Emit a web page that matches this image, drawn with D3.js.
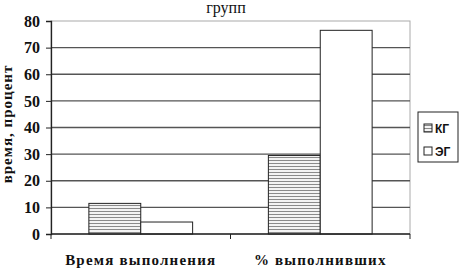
<!DOCTYPE html>
<html>
<head>
<meta charset="utf-8">
<script src="https://cdn.jsdelivr.net/npm/d3@7"></script>
<style>
  body { margin: 0; background: #fff; }
  svg { display: block; }
</style>
</head>
<body>
<div id="chart"></div>
<script>
// data
const categories = ["Время выполнения", "% выполнивших"];
const seriesNames = ["КГ", "ЭГ"];
const kgValues = [11.5, 29.5];
const egValues = [4.5, 76.5];
const yTicks = [0, 10, 20, 30, 40, 50, 60, 70, 80];

const width = 462;
const height = 269;
const margin = { top: 21, right: 52, bottom: 35, left: 51 };
const serif = "'Liberation Serif'";
const sans = "'Liberation Sans'";

const svg = d3.select("#chart").append("svg")
    .attr("width", width)
    .attr("height", height);

// horizontal hatch for КГ
const defs = svg.append("defs");
const pat = defs.append("pattern")
    .attr("id", "hatch")
    .attr("patternUnits", "userSpaceOnUse")
    .attr("width", 6)
    .attr("height", 3);
pat.append("rect").attr("width", 6).attr("height", 3).attr("fill", "#fff");
pat.append("line")
    .attr("x1", 0).attr("x2", 6)
    .attr("y1", 1.5).attr("y2", 1.5)
    .attr("stroke", "#8a8a8a")
    .attr("stroke-width", 1.2);

const xScale = d3.scaleBand()
    .domain(categories)
    .range([margin.left, width - margin.right]);

const xInner = d3.scaleBand()
    .domain(seriesNames)
    .range([0, xScale.bandwidth()])
    .paddingOuter(0.73);

const yScale = d3.scaleLinear()
    .domain([0, 80])
    .range([height - margin.bottom, margin.top]);

// plot frame + grid
svg.append("rect")
    .attr("x", margin.left)
    .attr("y", margin.top)
    .attr("width", width - margin.left - margin.right)
    .attr("height", yScale(0) - margin.top)
    .attr("fill", "none")
    .attr("stroke", "#aaa");

svg.append("g")
    .selectAll("line")
    .data(yTicks.filter(d => d > 0 && d < 80))
    .enter()
    .append("line")
    .attr("x1", margin.left)
    .attr("x2", width - margin.right)
    .attr("y1", d => yScale(d))
    .attr("y2", d => yScale(d))
    .attr("stroke", "#555")
    .attr("stroke-width", 1.3);

// bars
const data = categories.map((c, i) => ({ cat: c, values: [kgValues[i], egValues[i]] }));

const groups = svg.selectAll(".grp")
    .data(data)
    .enter()
    .append("g")
    .attr("transform", d => "translate(" + xScale(d.cat) + ",0)");

groups.selectAll("rect")
    .data(d => d.values.map((v, i) => ({ name: seriesNames[i], value: v })))
    .enter()
    .append("rect")
    .attr("x", d => xInner(d.name))
    .attr("width", xInner.bandwidth())
    .attr("y", d => yScale(d.value))
    .attr("height", d => yScale(0) - yScale(d.value))
    .attr("fill", d => d.name === "КГ" ? "url(#hatch)" : "#fff")
    .attr("stroke", "#222")
    .attr("stroke-width", 1);

// axes
const yAxis = d3.axisLeft(yScale).tickValues(yTicks).tickSize(5).tickPadding(6);
const yG = svg.append("g")
    .attr("transform", "translate(" + margin.left + ",0)")
    .call(yAxis);
yG.select(".domain").attr("stroke", "#222").attr("stroke-width", 1.3);
yG.selectAll(".tick line").attr("stroke", "#222");
yG.selectAll("text")
    .style("font-family", serif)
    .style("font-weight", "bold")
    .style("font-size", "16px")
    .attr("fill", "#111");

svg.append("line")
    .attr("x1", margin.left)
    .attr("x2", width - margin.right)
    .attr("y1", yScale(0))
    .attr("y2", yScale(0))
    .attr("stroke", "#222")
    .attr("stroke-width", 1.3);

// category ticks
svg.selectAll(".ctick")
    .data([...categories.map(c => xScale(c)), width - margin.right])
    .enter()
    .append("line")
    .attr("x1", d => d).attr("x2", d => d)
    .attr("y1", yScale(0)).attr("y2", yScale(0) + 5)
    .attr("stroke", "#222");

svg.selectAll(".clabel")
    .data(categories)
    .enter()
    .append("text")
    .attr("x", d => xScale(d) + xScale.bandwidth() / 2)
    .attr("y", 265)
    .attr("text-anchor", "middle")
    .style("font-family", serif)
    .style("font-weight", "bold")
    .style("font-size", "15px")
    .style("letter-spacing", "1.2px")
    .attr("fill", "#111")
    .text(d => d);

// y axis title
svg.append("text")
    .attr("text-anchor", "middle")
    .attr("transform", "translate(12,124)rotate(-90)")
    .style("font-family", serif)
    .style("font-weight", "bold")
    .style("font-size", "15px")
    .style("letter-spacing", "1px")
    .attr("fill", "#111")
    .text("время, процент");

// title (second line)
svg.append("text")
    .attr("x", 226)
    .attr("y", 13)
    .attr("text-anchor", "middle")
    .style("font-family", serif)
    .style("font-size", "16px")
    .attr("fill", "#111")
    .text("групп");

// legend
const legend = svg.append("g").attr("transform", "translate(418,112)");
legend.append("rect")
    .attr("width", 40)
    .attr("height", 50)
    .attr("fill", "#fff")
    .attr("stroke", "#222");

legend.selectAll(".item")
    .data(seriesNames)
    .enter()
    .append("g")
    .attr("transform", (d, i) => "translate(6," + (12 + i * 23) + ")")
    .each(function (d) {
        const g = d3.select(this);
        g.append("rect")
            .attr("width", 8).attr("height", 8)
            .attr("fill", d === "КГ" ? "url(#hatch)" : "#fff")
            .attr("stroke", "#222");
        g.append("text")
            .attr("x", 11).attr("y", 8.5)
            .style("font-family", sans)
            .style("font-weight", "bold")
            .style("font-size", "12px")
            .attr("fill", "#111")
            .text(d);
    });
</script>
</body>
</html>
